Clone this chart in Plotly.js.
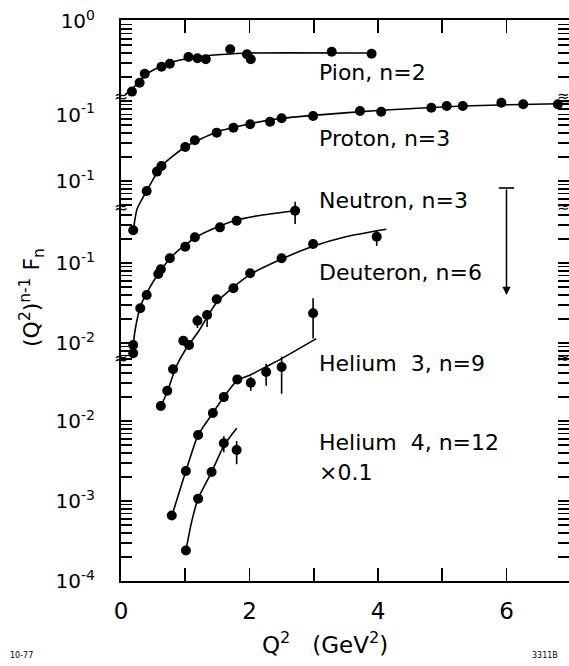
<!DOCTYPE html>
<html><head><meta charset="utf-8">
<script src="https://cdn.plot.ly/plotly-3.0.1.min.js"></script>
<style>body{margin:0;background:#fff}#chart{width:569px;height:666px}</style>
</head><body><div id="chart"></div>
<script>
// ---------------- data (in each curve's own scale) ----------------
const pionQ2 = [0.17,0.29,0.37,0.63,0.76,1.05,1.19,1.32,1.70,1.96,2.02,3.28,3.90];
const pionF  = [0.131,0.169,0.219,0.268,0.292,0.355,0.342,0.332,0.443,0.384,0.332,0.413,0.390];
const pionFitQ2 = [0.06,0.17,0.28,0.40,0.60,0.80,1.00,1.30,1.70,2.00,3.90];
const pionFitF  = [0.119,0.141,0.173,0.218,0.266,0.307,0.335,0.365,0.387,0.398,0.398];

const protonQ2 = [0.19,0.40,0.56,0.63,1.00,1.15,1.49,1.75,2.01,2.32,2.50,2.99,3.72,4.05,4.83,5.07,5.32,5.92,6.26,6.80];
const protonF  = [0.0242,0.075,0.131,0.154,0.266,0.323,0.402,0.464,0.511,0.551,0.608,0.649,0.750,0.735,0.824,0.866,0.866,0.952,0.909,0.909];
const protonFitQ2 = [0.19,0.25,0.40,0.63,1.00,1.49,2.01,2.50,2.99,4.05,5.32,6.80,6.97];
const protonFitF  = [0.0237,0.0447,0.075,0.154,0.266,0.41,0.52,0.608,0.662,0.765,0.866,0.925,0.93];

const neutronQ2 = [0.19,0.19,0.30,0.40,0.58,0.62,0.76,1.00,1.15,1.54,1.80,2.71];
const neutronF  = [0.00944,0.00743,0.0272,0.0398,0.0728,0.0834,0.1146,0.160,0.2096,0.279,0.338,0.451];
const neutronHi = [null,null,null,null,null,null,null,null,null,null,null,0.583];
const neutronLo = [null,null,null,null,null,null,null,null,null,null,null,0.307];
const neutronFitQ2 = [0.17,0.19,0.22,0.30,0.40,0.60,0.80,1.00,1.20,1.50,1.80,2.20,2.71];
const neutronFitF  = [0.00649,0.00944,0.01454,0.0282,0.0422,0.0772,0.1224,0.168,0.2175,0.282,0.345,0.398,0.451];
const neutronLimitQ2 = [6.0];
const neutronLimitTop = [0.866];
const neutronLimitBottom = [0.0398];

const deuteronQ2 = [0.62,0.72,0.81,0.97,1.06,1.19,1.34,1.49,1.75,2.01,2.50,2.99,3.98];
const deuteronF  = [0.00163,0.00253,0.00469,0.01069,0.00944,0.0190,0.0224,0.0352,0.0483,0.0744,0.1145,0.1727,0.2133];
const deuteronHi = [null,null,null,null,0.0109,0.0224,0.0259,null,null,null,null,null,0.2585];
const deuteronLo = [null,null,null,null,0.00818,0.0154,0.0158,null,null,null,null,null,0.163];
const deuteronFitQ2 = [0.62,0.72,0.85,1.00,1.20,1.50,2.00,2.50,3.00,3.50,4.13];
const deuteronFitF  = [0.00163,0.00244,0.00487,0.00818,0.01372,0.033,0.071,0.112,0.163,0.213,0.264];

const he3Q2 = [0.79,1.01,1.20,1.43,1.60,1.81,2.02,2.26,2.50,2.99];
const he3F  = [0.000658,0.00237,0.00667,0.0126,0.0199,0.0331,0.030,0.041,0.0473,0.222];
const he3Hi = [null,null,null,null,null,null,0.0357,0.0521,0.0638,0.343];
const he3Lo = [null,null,null,null,null,null,0.0238,0.0275,0.0219,0.1074];
const he3FitQ2 = [0.79,1.01,1.20,1.43,1.60,1.81,2.02,2.26,2.50,3.04];
const he3FitF  = [0.000644,0.00237,0.00667,0.0126,0.0199,0.0321,0.0379,0.0478,0.0602,0.107];

const he4Q2 = [1.01,1.20,1.41,1.60,1.80];
const he4F  = [0.000240,0.00107,0.00230,0.00528,0.00435];
const he4Hi = [null,null,null,0.00647,0.0056];
const he4Lo = [null,null,null,0.00407,0.00288];
const he4FitQ2 = [1.01,1.10,1.20,1.41,1.60,1.80];
const he4FitF  = [0.000240,0.000552,0.00107,0.00230,0.00489,0.00809];

const xTickVals = [0,1,2,3,4,5,6];
const xTickText = ['0','','2','','4','','6'];
const yLabelText = ['10<sup>0</sup>','10<sup>-1</sup>','10<sup>-1</sup>','10<sup>-1</sup>','10<sup>-2</sup>','10<sup>-2</sup>','10<sup>-3</sup>','10<sup>-4</sup>'];
const curveLabels = ['Pion, n=2','Proton, n=3','Neutron, n=3','Deuteron, n=6','Helium\u00a0 3, n=9','Helium\u00a0 4, n=12','×0.1'];

// ---------------- broken log axis: each curve has its own decade offset ----------------
const OFF = {pion:7.0, proton:6.0, neutron:4.975, deuteron:4.975, helium:4.0};
const YTOP = 7.0125;
const yLabelPos = [7.0, 5.83, 5.0, 3.975, 2.975, 2.0, 1.0, 0.0];
const segments = [
  {off:OFF.pion, lo:6.0625, hi:YTOP},
  {off:OFF.proton, lo:4.675, hi:6.0625},
  {off:OFF.neutron, lo:2.7875, hi:4.675},
  {off:OFF.helium, lo:0, hi:2.7875}
];
const breaks = [6.0625, 4.675, 2.7875];
// all tick positions (log ticks of every segment) + label positions
const yTickVals = yLabelPos.slice();
const yTickText = yLabelText.slice();
segments.forEach(s => {
  for (let d = -6; d <= 1; d++) for (let k = 1; k <= 9; k++) {
    const u = s.off + d + Math.log10(k);
    if (u > s.lo + 0.02 && u < s.hi - 0.005 && !yLabelPos.some(m => Math.abs(m-u) < 0.03)) { yTickVals.push(u); yTickText.push(''); }
  }
});
const U = (arr, off) => arr.map(v => v == null ? null : Math.log10(v) + off);
function errs(F, Hi, Lo) {
  const up = F.map((v,i) => Hi[i] == null ? 0 : Math.log10(Hi[i]) - Math.log10(v));
  const dn = F.map((v,i) => Lo[i] == null ? 0 : Math.log10(v) - Math.log10(Lo[i]));
  return {type:'data', symmetric:false, array:up, arrayminus:dn, color:'black', thickness:1.6, width:0};
}
const pts = (x, y, e) => { const t = {x, y, mode:'markers', type:'scatter', marker:{color:'black', size:10}, hoverinfo:'skip', showlegend:false}; if (e) t.error_y = e; return t; };
const line = (x, y) => ({x, y, mode:'lines', type:'scatter', line:{color:'black', width:1.6, shape:'spline', smoothing:0.6}, hoverinfo:'skip', showlegend:false});

const traces = [
  line(pionFitQ2, U(pionFitF, OFF.pion)),
  pts(pionQ2, U(pionF, OFF.pion)),
  line(protonFitQ2, U(protonFitF, OFF.proton)),
  pts(protonQ2, U(protonF, OFF.proton)),
  line(neutronFitQ2, U(neutronFitF, OFF.neutron)),
  pts(neutronQ2, U(neutronF, OFF.neutron), errs(neutronF, neutronHi, neutronLo)),
  line(deuteronFitQ2, U(deuteronFitF, OFF.deuteron)),
  pts(deuteronQ2, U(deuteronF, OFF.deuteron), errs(deuteronF, deuteronHi, deuteronLo)),
  line(he3FitQ2, U(he3FitF, OFF.helium)),
  pts(he3Q2, U(he3F, OFF.helium), errs(he3F, he3Hi, he3Lo)),
  line(he4FitQ2, U(he4FitF, OFF.helium)),
  pts(he4Q2, U(he4F, OFF.helium), errs(he4F, he4Hi, he4Lo)),
  {x:neutronLimitQ2, y:U(neutronLimitTop, OFF.neutron), mode:'markers', type:'scatter',
   marker:{symbol:'line-ew-open', size:11, color:'black', line:{color:'black', width:1.6}}, hoverinfo:'skip', showlegend:false}
];

const FONT = 'DejaVu Sans, Liberation Sans, sans-serif';
const labelY = [6.3625, 5.5375, 4.7625, 3.8625, 2.725, 1.7375, 1.3625];
const annotations = curveLabels.map((t,i) => ({x:3.05, y:labelY[i], xref:'x', yref:'y', text:t, showarrow:false,
  xanchor:'left', yanchor:'middle', font:{family:FONT, size:22, color:'black'}}));
breaks.forEach(b => {
  annotations.push({x:0, y:b, xref:'x', yref:'y', text:'≈', showarrow:false, xanchor:'center', yanchor:'middle', font:{family:FONT, size:17, color:'black'}});
  annotations.push({x:6.88, y:b, xref:'x', yref:'y', text:'≈', showarrow:false, xanchor:'center', yanchor:'middle', font:{family:FONT, size:15, color:'black'}});
});
annotations.push({x:neutronLimitQ2[0], y:U(neutronLimitBottom, OFF.neutron)[0], ax:neutronLimitQ2[0], ay:U(neutronLimitTop, OFF.neutron)[0],
  xref:'x', yref:'y', axref:'x', ayref:'y', text:'', showarrow:true, arrowhead:2, arrowsize:1.1, arrowwidth:1.5, arrowcolor:'black'});
annotations.push({x:0.455, y:-0.11, xref:'paper', yref:'paper', text:'Q<sup>2</sup>\u00a0\u00a0\u00a0(GeV<sup>2</sup>)', showarrow:false,
  xanchor:'center', yanchor:'middle', font:{family:FONT, size:23, color:'black'}});
annotations.push({x:-0.199, y:0.506, xref:'paper', yref:'paper', text:'(Q<sup>2</sup>)<sup>n-1</sup> F<sub>n</sub>', textangle:-90, showarrow:false,
  xanchor:'center', yanchor:'middle', font:{family:FONT, size:22, color:'black'}});
annotations.push({x:-0.252, y:-0.132, xref:'paper', yref:'paper', text:'10-77', showarrow:false, xanchor:'left', yanchor:'middle', font:{family:FONT, size:8, color:'black'}});
annotations.push({x:0.98, y:-0.132, xref:'paper', yref:'paper', text:'3311B', showarrow:false, xanchor:'right', yanchor:'middle', font:{family:FONT, size:8, color:'black'}});

const layout = {
  width:569, height:666, margin:{l:121, r:0, t:20, b:85},
  paper_bgcolor:'white', plot_bgcolor:'white', showlegend:false,
  font:{family:FONT, color:'black'},
  xaxis:{range:[0, 6.973], tickmode:'array', tickvals:xTickVals, ticktext:xTickText,
    ticks:'inside', ticklen:13, tickwidth:1.6, tickcolor:'black', showline:true, linewidth:2, linecolor:'black', mirror:'ticks',
    showgrid:false, zeroline:false, ticklabelstandoff:8, tickfont:{family:FONT, size:23, color:'black'}},
  yaxis:{range:[0, YTOP], tickmode:'array', tickvals:yTickVals, ticktext:yTickText,
    ticks:'inside', ticklen:11, tickwidth:1.6, tickcolor:'black', showline:true, linewidth:2, linecolor:'black', mirror:'ticks',
    showgrid:false, zeroline:false, ticklabelstandoff:20, tickfont:{family:FONT, size:20, color:'black'}},
  annotations
};
Plotly.newPlot('chart', traces, layout, {staticPlot:true, displayModeBar:false});
</script></body></html>
